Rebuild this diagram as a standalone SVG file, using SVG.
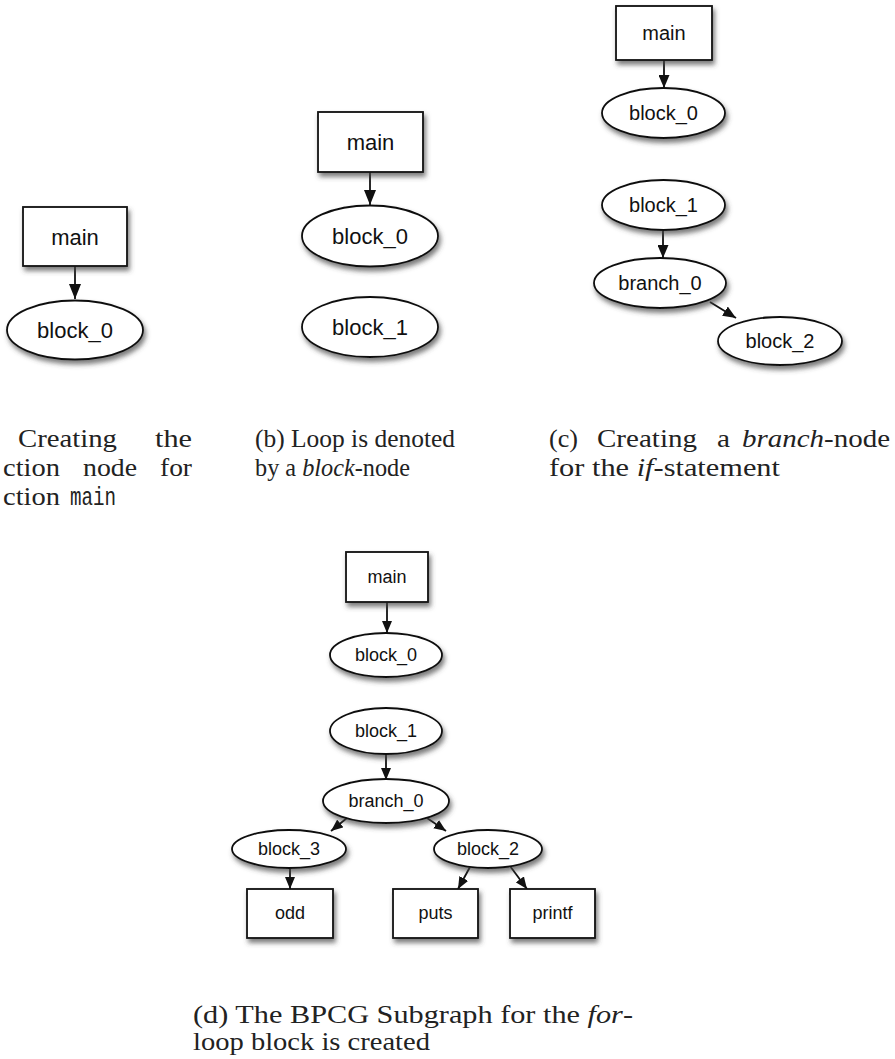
<svg xmlns="http://www.w3.org/2000/svg" width="895" height="1059" viewBox="0 0 895 1059">
<style>
.shape{fill:#fff;stroke:#111;stroke-width:1.8;filter:url(#sh)}
.lbl{font-family:"Liberation Sans",Arial,sans-serif;text-anchor:middle;fill:#111}
.l22{font-size:22px}
.l20{font-size:20px}
.l18{font-size:18px}
.cap{font-family:"Liberation Serif","Times New Roman",serif;font-size:25px;fill:#222}
.mono{font-family:"Liberation Mono","Courier New",monospace}
.it{font-style:italic}
.edge{stroke:#111;stroke-width:1.8;fill:none}
.eL{marker-end:url(#arrL)}
.eM{marker-end:url(#arrM)}
.eS{marker-end:url(#arrS)}
</style>
<defs>
<filter id="sh" x="-20%" y="-20%" width="150%" height="170%">
<feGaussianBlur in="SourceAlpha" stdDeviation="2.5"/>
<feOffset dx="2" dy="4" result="b"/>
<feFlood flood-color="#444" flood-opacity="0.7"/>
<feComposite in2="b" operator="in"/>
<feMerge><feMergeNode/><feMergeNode in="SourceGraphic"/></feMerge>
</filter>
<marker id="arrL" markerUnits="userSpaceOnUse" markerWidth="15" markerHeight="12" refX="15" refY="6" orient="auto"><path d="M0,0 L15,6 L0,12 z" fill="#111"/></marker>
<marker id="arrM" markerUnits="userSpaceOnUse" markerWidth="13" markerHeight="11" refX="13" refY="5.5" orient="auto"><path d="M0,0 L13,5.5 L0,11 z" fill="#111"/></marker>
<marker id="arrS" markerUnits="userSpaceOnUse" markerWidth="12" markerHeight="10" refX="12" refY="5" orient="auto"><path d="M0,0 L12,5 L0,10 z" fill="#111"/></marker>
</defs>
<rect width="895" height="1059" fill="#fff"/>

<g id="connectors">
<path class="edge eL" d="M75,266 L75,299"/>
<path class="edge eL" d="M370,172 L370,205"/>
<path class="edge eM" d="M664,60 L664,88"/>
<path class="edge eM" d="M663,230 L663,258"/>
<path class="edge eM" d="M710,302 L736,318"/>
<path class="edge eS" d="M387,602 L387,633"/>
<path class="edge eS" d="M386,754 L386,780"/>
<path class="edge eS" d="M347,818 L331,831"/>
<path class="edge eS" d="M427,818 L446,831"/>
<path class="edge eS" d="M290,868 L290,889"/>
<path class="edge eS" d="M470,867 L458,889"/>
<path class="edge eS" d="M510,866 L527,889"/>
</g>

<!-- (a) -->
<g id="a_main"><rect class="shape" x="23" y="207" width="104" height="59"/><text class="lbl l22" x="75" y="245">main</text></g>
<g id="a_block_0"><ellipse class="shape" cx="75" cy="330" rx="68" ry="29.5"/><text class="lbl l22" x="75" y="338">block_0</text></g>

<!-- (b) -->
<g id="b_main"><rect class="shape" x="318" y="112" width="105" height="60"/><text class="lbl l22" x="370.5" y="150">main</text></g>
<g id="b_block_0"><ellipse class="shape" cx="370" cy="236" rx="68" ry="30.5"/><text class="lbl l22" x="370" y="244">block_0</text></g>
<g id="b_block_1"><ellipse class="shape" cx="370" cy="327" rx="68" ry="30"/><text class="lbl l22" x="370" y="335">block_1</text></g>

<!-- (c) -->
<g id="c_main"><rect class="shape" x="616" y="6" width="96" height="54"/><text class="lbl l20" x="664" y="40">main</text></g>
<g id="c_block_0"><ellipse class="shape" cx="663.5" cy="113" rx="61.5" ry="25"/><text class="lbl l20" x="663.5" y="120">block_0</text></g>
<g id="c_block_1"><ellipse class="shape" cx="663.5" cy="205" rx="61.5" ry="25"/><text class="lbl l20" x="663.5" y="212">block_1</text></g>
<g id="c_branch_0"><ellipse class="shape" cx="660" cy="283" rx="66" ry="25"/><text class="lbl l20" x="660" y="290">branch_0</text></g>
<g id="c_block_2"><ellipse class="shape" cx="780" cy="341" rx="62" ry="24"/><text class="lbl l20" x="780" y="348">block_2</text></g>

<!-- (d) -->
<g id="d_main"><rect class="shape" x="346" y="552" width="82" height="50"/><text class="lbl l18" x="387" y="583">main</text></g>
<g id="d_block_0"><ellipse class="shape" cx="386" cy="655" rx="56" ry="22"/><text class="lbl l18" x="386" y="661">block_0</text></g>
<g id="d_block_1"><ellipse class="shape" cx="386" cy="731" rx="56" ry="23"/><text class="lbl l18" x="386" y="737">block_1</text></g>
<g id="d_branch_0"><ellipse class="shape" cx="386" cy="801" rx="63" ry="22"/><text class="lbl l18" x="386" y="807">branch_0</text></g>
<g id="d_block_3"><ellipse class="shape" cx="289" cy="849" rx="57" ry="19"/><text class="lbl l18" x="289" y="855">block_3</text></g>
<g id="d_block_2"><ellipse class="shape" cx="488" cy="849" rx="54" ry="19"/><text class="lbl l18" x="488" y="855">block_2</text></g>
<g id="d_odd"><rect class="shape" x="247" y="889" width="86" height="49"/><text class="lbl l18" x="290" y="919">odd</text></g>
<g id="d_puts"><rect class="shape" x="393" y="889" width="85" height="49"/><text class="lbl l18" x="435.5" y="919">puts</text></g>
<g id="d_printf"><rect class="shape" x="510" y="889" width="85" height="49"/><text class="lbl l18" x="552.5" y="919">printf</text></g>

<!-- captions -->
<g id="captions">
<text class="cap" x="18" y="447" textLength="99" lengthAdjust="spacingAndGlyphs">Creating</text>
<text class="cap" x="155" y="447" textLength="37" lengthAdjust="spacingAndGlyphs">the</text>
<text class="cap" x="3" y="476" textLength="57" lengthAdjust="spacingAndGlyphs">ction</text>
<text class="cap" x="83" y="476" textLength="54" lengthAdjust="spacingAndGlyphs">node</text>
<text class="cap" x="160" y="476" textLength="32" lengthAdjust="spacingAndGlyphs">for</text>
<text class="cap" x="3" y="505" textLength="57" lengthAdjust="spacingAndGlyphs">ction</text>
<text class="cap mono" x="70" y="505" textLength="46" lengthAdjust="spacingAndGlyphs">main</text>

<text class="cap" x="255" y="447" textLength="200" lengthAdjust="spacingAndGlyphs">(b) Loop is denoted</text>
<text class="cap" x="255" y="476" textLength="155" lengthAdjust="spacingAndGlyphs">by a <tspan class="it">block</tspan>-node</text>

<text class="cap" x="549" y="447" textLength="29" lengthAdjust="spacingAndGlyphs">(c)</text>
<text class="cap" x="597" y="447" textLength="100" lengthAdjust="spacingAndGlyphs">Creating</text>
<text class="cap" x="717" y="447" textLength="13" lengthAdjust="spacingAndGlyphs">a</text>
<text class="cap" x="742" y="447" textLength="148" lengthAdjust="spacingAndGlyphs"><tspan class="it">branch</tspan>-node</text>
<text class="cap" x="549" y="476" textLength="231" lengthAdjust="spacingAndGlyphs">for the <tspan class="it">if</tspan>-statement</text>

<text class="cap" x="193" y="1023" textLength="440" lengthAdjust="spacingAndGlyphs">(d) The BPCG Subgraph for the <tspan class="it">for</tspan>-</text>
<text class="cap" x="193" y="1050" textLength="237" lengthAdjust="spacingAndGlyphs">loop block is created</text>
</g>
</svg>
